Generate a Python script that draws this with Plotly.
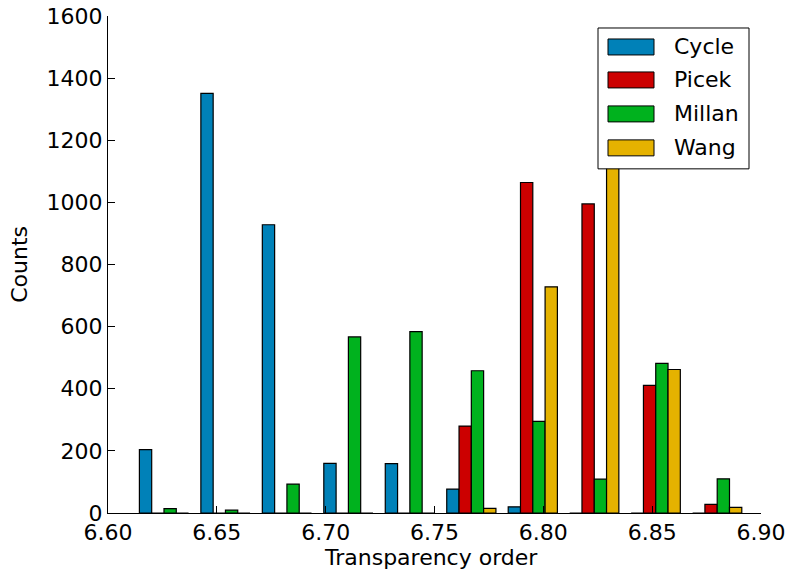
import plotly.graph_objects as go

# ---- data ----
bin_start = 6.6116
bin_width = 0.02824
n_bins = 10
series_names = ["Cycle", "Picek", "Millan", "Wang"]
cycle = [204, 1351, 928, 160, 159, 77, 20, 0, 0, 0]
picek = [0, 0, 0, 0, 0, 280, 1064, 995, 411, 28]
millan = [14, 9, 93, 567, 584, 458, 295, 109, 482, 110]
wang = [0, 0, 0, 0, 0, 15, 728, 1500, 462, 18]
x_ticks = [6.60, 6.65, 6.70, 6.75, 6.80, 6.85, 6.90]
y_ticks = [0, 200, 400, 600, 800, 1000, 1200, 1400, 1600]

series = [cycle, picek, millan, wang]
colors = ["#0081b8", "#cc0000", "#00b21e", "#e5b200"]

W, H = 789, 576
L, R, T, B = 108, 28, 16, 62.5
PW, PH = W - L - R, H - T - B
FONT = "DejaVu Sans"
FS = 22


def xp(px):
    return (px - L) / PW


def yp(py):
    return 1 - (py - T) / PH


fig = go.Figure()
n = len(series)
bw = 0.8 * bin_width / n
for i, (name, vals, col) in enumerate(zip(series_names, series, colors)):
    xs = [bin_start + k * bin_width + 0.1 * bin_width + bw * (i + 0.5) for k in range(n_bins)]
    fig.add_trace(go.Bar(
        x=xs, y=vals, width=bw, name=name,
        marker=dict(color=col, line=dict(color="black", width=1.2)),
        showlegend=False,
    ))

fig.update_layout(
    width=W, height=H,
    margin=dict(l=L, r=R, t=T, b=B, pad=0, autoexpand=False),
    paper_bgcolor="white", plot_bgcolor="white",
    barmode="overlay",
    font=dict(family=FONT, size=FS, color="black"),
    xaxis=dict(
        range=[6.60, 6.90], tickvals=x_ticks, tickformat=".2f",
        ticks="inside", ticklen=7, tickwidth=1, tickcolor="black",
        showline=True, linecolor="black", linewidth=1,
        showgrid=False, zeroline=False, mirror=False, automargin=False,
        tickfont=dict(family=FONT, size=FS),
    ),
    yaxis=dict(
        range=[0, 1600], tickvals=y_ticks,
        ticks="inside", ticklen=7, tickwidth=1, tickcolor="black",
        showline=True, linecolor="black", linewidth=1,
        showgrid=False, zeroline=False, mirror=False, automargin=False,
        tickfont=dict(family=FONT, size=FS),
    ),
)

# axis titles
fig.add_annotation(text="Transparency order", xref="paper", yref="paper",
                   x=xp(431), y=yp(558), showarrow=False,
                   xanchor="center", yanchor="middle", font=dict(size=FS))
fig.add_annotation(text="Counts", xref="paper", yref="paper",
                   x=xp(20), y=yp(265), showarrow=False, textangle=-90,
                   xanchor="center", yanchor="middle", font=dict(size=FS))

# legend drawn manually to match the boxed matplotlib legend
shapes = [dict(type="rect", xref="paper", yref="paper",
               x0=xp(598), x1=xp(749), y0=yp(169), y1=yp(28),
               line=dict(color="black", width=1), fillcolor="white", layer="above")]
row_y = [47, 80, 114, 148]
for name, col, cy in zip(series_names, colors, row_y):
    shapes.append(dict(type="rect", xref="paper", yref="paper",
                       x0=xp(608), x1=xp(654), y0=yp(cy + 8), y1=yp(cy - 8),
                       line=dict(color="black", width=1), fillcolor=col, layer="above"))
    fig.add_annotation(text=name, xref="paper", yref="paper",
                       x=xp(672), y=yp(cy), showarrow=False,
                       xanchor="left", yanchor="middle", font=dict(size=FS))
fig.update_layout(shapes=shapes)

fig.write_html("out.html")
